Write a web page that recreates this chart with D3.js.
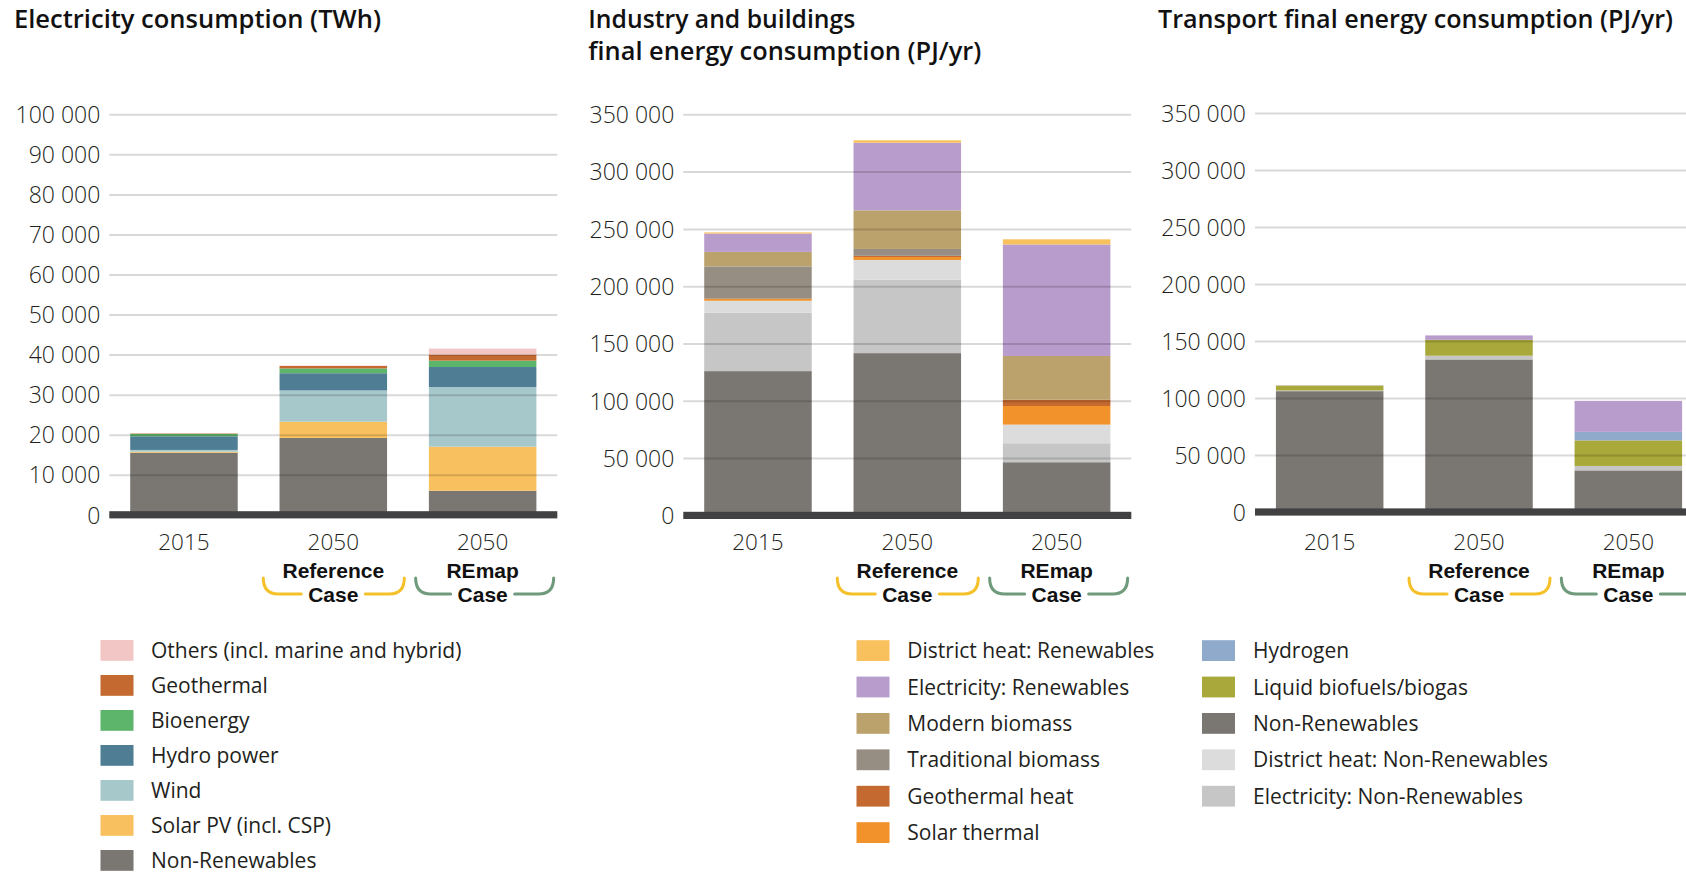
<!DOCTYPE html>
<html>
<head>
<meta charset="utf-8">
<script src="https://cdn.jsdelivr.net/npm/d3@7"></script>
<style>
  body { margin: 0; background: #fff; }
  svg { display: block; font-family: 'Open Sans', sans-serif; }
</style>
</head>
<body>
<svg id="chart" width="1686" height="873"></svg>
<script>
// ---------- DATA ----------
const categories = ["2015", "2050", "2050"];
const scenarioLabels = ["", "Reference", "REmap"];
const caseLabel = "Case";

// Panel 1: Electricity consumption (TWh) — bottom to top
const elecNonRenewables = [15500, 19200, 6000];
const elecSolarPV       = [250, 4050, 11000];
const elecWind          = [450, 7800, 14900];
const elecHydro         = [3400, 4300, 5000];
const elecBioenergy     = [600, 1200, 1600];
const elecGeothermal    = [100, 600, 1450];
const elecOthers        = [0, 100, 1550];
const elecTicks = [0, 10000, 20000, 30000, 40000, 50000, 60000, 70000, 80000, 90000, 100000];

// Panel 2: Industry and buildings final energy consumption (PJ/yr)
const ibNonRenewables     = [125900, 141600, 46400];
const ibElecNonRenewables = [50900, 64100, 16550];
const ibDHNonRenewables   = [10500, 17200, 16270];
const ibSolarThermal      = [1500, 2600, 16260];
const ibGeothermalHeat    = [500, 1000, 5400];
const ibTraditionalBio    = [28000, 6000, 0];
const ibModernBio         = [12650, 33700, 38250];
const ibElecRenewables    = [16000, 59000, 97300];
const ibDHRenewables      = [1000, 2100, 4500];
const pjTicks = [0, 50000, 100000, 150000, 200000, 250000, 300000, 350000];

// Panel 3: Transport final energy consumption (PJ/yr)
const trNonRenewables     = [106000, 133800, 36500];
const trElecNonRenewables = [600, 3300, 3900];
const trBiofuels          = [4300, 13900, 22400];
const trHydrogen          = [0, 0, 7500];
const trElecRenewables    = [200, 3900, 27200];

// Legends
const legend1Labels = ["Others (incl. marine and hybrid)", "Geothermal", "Bioenergy", "Hydro power", "Wind", "Solar PV (incl. CSP)", "Non-Renewables"];
const legend2ColALabels = ["District heat: Renewables", "Electricity: Renewables", "Modern biomass", "Traditional biomass", "Geothermal heat", "Solar thermal"];
const legend2ColBLabels = ["Hydrogen", "Liquid biofuels/biogas", "Non-Renewables", "District heat: Non-Renewables", "Electricity: Non-Renewables"];

// ---------- STYLE ----------
const C = {
  nonRen: "#7a7672", solarPV: "#f8c05e", wind: "#a7c8cb", hydro: "#4f7e94",
  bio: "#5db56b", geo: "#c4692f", others: "#f1c6c5",
  elecRen: "#b89ccb", modernBio: "#bba26c", tradBio: "#978e83", solarTh: "#f1922a",
  dhRen: "#f9c15e", hydrogen: "#90aacc", biofuel: "#a8a83b",
  dhNonRen: "#dcdcdc", elecNonRen: "#c6c6c6"
};

const svg = d3.select("#chart");
svg.append("rect").attr("width", 1686).attr("height", 873).attr("fill", "#fff");

const fmt = v => d3.format(",")(v).replace(/,/g, " ");
const PW = 448;

function drawPanel(cfg) {
  const g = svg.append("g");
  const x = d3.scaleBand().domain(d3.range(categories.length))
    .range([cfg.x0, cfg.x0 + PW]).paddingInner(0.28).paddingOuter(0.14);
  const y = d3.scaleLinear().domain([0, cfg.max]).range([cfg.y0, cfg.ytop]);

  const rows = categories.map((c, i) => {
    const r = { i };
    cfg.series.forEach(s => { r[s.key] = s.values[i]; });
    return r;
  });
  const stack = d3.stack().keys(cfg.series.map(s => s.key))(rows);
  const colorOf = Object.fromEntries(cfg.series.map(s => [s.key, s.color]));

  g.selectAll("g.layer").data(stack).join("g").attr("class", "layer")
    .attr("fill", d => colorOf[d.key])
    .selectAll("rect").data(d => d).join("rect")
    .attr("x", d => x(d.data.i))
    .attr("width", x.bandwidth())
    .attr("y", d => y(d[1]))
    .attr("height", d => Math.max(0, y(d[0]) - y(d[1])));

  // axis + gridlines (on top of bars)
  const ax = g.append("g").attr("transform", `translate(${cfg.x0},0)`)
    .call(d3.axisLeft(y).tickValues(cfg.ticks).tickFormat(fmt)
      .tickSizeInner(-PW).tickSizeOuter(0).tickPadding(9));
  ax.select(".domain").remove();
  ax.selectAll(".tick line").attr("stroke", "#000").attr("stroke-opacity", 0.15).attr("stroke-width", 2);
  ax.selectAll(".tick text").attr("font-family", "'Open Sans', sans-serif")
    .attr("font-size", 23).attr("font-weight", 300).attr("fill", "#231f20")
    .attr("dy", null).attr("dominant-baseline", null)
    .attr("y", 8.2);

  // baseline bar
  g.append("rect").attr("x", cfg.x0).attr("width", PW)
    .attr("y", y(0) - 3.6).attr("height", 7.2).attr("fill", "#414042");

  // category labels
  const yearY = 549.5, scenY = 577.6, caseY = 601.6;
  categories.forEach((c, i) => {
    const cx = x(i) + x.bandwidth() / 2;
    g.append("text").attr("x", cx).attr("y", yearY).attr("text-anchor", "middle")
      .attr("font-size", 22.5).attr("font-weight", 300).attr("fill", "#231f20").text(c);
    if (scenarioLabels[i]) {
      g.append("text").attr("x", cx).attr("y", scenY).attr("text-anchor", "middle")
        .attr("font-family", "'Liberation Sans', Arial, sans-serif")
        .attr("font-size", 21).attr("font-weight", 700).attr("fill", "#111").text(scenarioLabels[i]);
      g.append("text").attr("x", cx).attr("y", caseY).attr("text-anchor", "middle")
        .attr("font-family", "'Liberation Sans', Arial, sans-serif")
        .attr("font-size", 21).attr("font-weight", 700).attr("fill", "#111").text(caseLabel);
      const isRef = i === 1;
      const L = cx - (isRef ? 70 : 67), R = cx + 71, yT = 578, yB = 594, gap = 32;
      const col = isRef ? "#f5c12b" : "#6f9b7c";
      const p = `M${L},${yT} Q${L},${yB} ${L + 15},${yB} H${cx - gap} M${cx + gap},${yB} H${R - 15} Q${R},${yB} ${R},${yT}`;
      g.append("path").attr("d", p).attr("fill", "none").attr("stroke", col)
        .attr("stroke-width", 3).attr("stroke-linecap", "round");
    }
  });
}

drawPanel({
  x0: 109.3, y0: 514.8, ytop: 114.3, max: 100000, ticks: elecTicks,
  series: [
    { key: "nonRen", values: elecNonRenewables, color: C.nonRen },
    { key: "solar", values: elecSolarPV, color: C.solarPV },
    { key: "wind", values: elecWind, color: C.wind },
    { key: "hydro", values: elecHydro, color: C.hydro },
    { key: "bio", values: elecBioenergy, color: C.bio },
    { key: "geo", values: elecGeothermal, color: C.geo },
    { key: "others", values: elecOthers, color: C.others }
  ]
});

drawPanel({
  x0: 683.3, y0: 515.4, ytop: 114.3, max: 350000, ticks: pjTicks,
  series: [
    { key: "nonRen", values: ibNonRenewables, color: C.nonRen },
    { key: "elecNonRen", values: ibElecNonRenewables, color: C.elecNonRen },
    { key: "dhNonRen", values: ibDHNonRenewables, color: C.dhNonRen },
    { key: "solarTh", values: ibSolarThermal, color: C.solarTh },
    { key: "geoHeat", values: ibGeothermalHeat, color: C.geo },
    { key: "tradBio", values: ibTraditionalBio, color: C.tradBio },
    { key: "modernBio", values: ibModernBio, color: C.modernBio },
    { key: "elecRen", values: ibElecRenewables, color: C.elecRen },
    { key: "dhRen", values: ibDHRenewables, color: C.dhRen }
  ]
});

drawPanel({
  x0: 1255, y0: 512, ytop: 113, max: 350000, ticks: pjTicks,
  series: [
    { key: "nonRen", values: trNonRenewables, color: C.nonRen },
    { key: "elecNonRen", values: trElecNonRenewables, color: C.elecNonRen },
    { key: "biofuel", values: trBiofuels, color: C.biofuel },
    { key: "hydrogen", values: trHydrogen, color: C.hydrogen },
    { key: "elecRen", values: trElecRenewables, color: C.elecRen }
  ]
});

// ---------- TITLES ----------
function title(txt, x, y, len) {
  svg.append("text").attr("x", x).attr("y", y).attr("font-size", 24.5).attr("font-weight", 600)
    .attr("fill", "#111").attr("textLength", len).attr("lengthAdjust", "spacingAndGlyphs").text(txt);
}
title("Electricity consumption (TWh)", 14, 28.3, 367);
title("Industry and buildings", 588.3, 28.3, 267);
title("final energy consumption (PJ/yr)", 588.3, 60, 393);
title("Transport final energy consumption (PJ/yr)", 1158, 28.3, 515);

// ---------- LEGENDS ----------
function legend(labels, colors, sx, tx, cy0, dy) {
  labels.forEach((t, i) => {
    const cy = cy0 + i * dy;
    svg.append("rect").attr("x", sx).attr("y", cy - 10.4).attr("width", 33).attr("height", 20.8).attr("fill", colors[i]);
    svg.append("text").attr("x", tx).attr("y", cy + 7.5).attr("font-size", 21).attr("font-weight", 400)
      .attr("fill", "#231f20").text(t);
  });
}
legend(legend1Labels, [C.others, C.geo, C.bio, C.hydro, C.wind, C.solarPV, C.nonRen], 100.5, 151, 650.4, 35);
legend(legend2ColALabels, [C.dhRen, C.elecRen, C.modernBio, C.tradBio, C.geo, C.solarTh], 856.5, 907.3, 650.6, 36.4);
legend(legend2ColBLabels, [C.hydrogen, C.biofuel, C.nonRen, C.dhNonRen, C.elecNonRen], 1202, 1253, 650.6, 36.4);
</script>
</body>
</html>
